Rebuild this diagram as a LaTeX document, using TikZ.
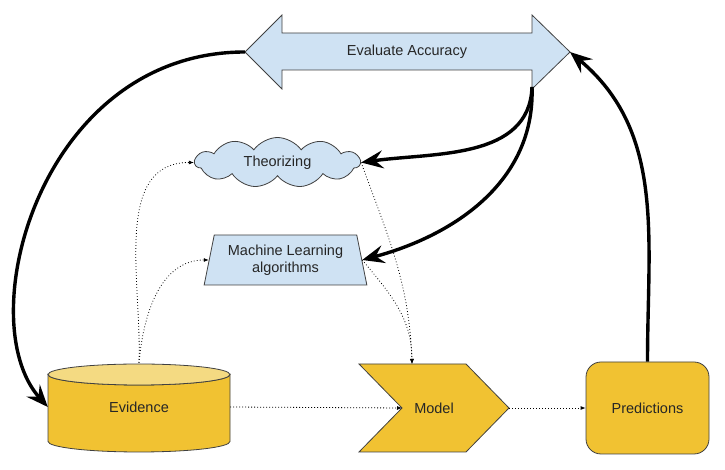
\documentclass[tikz,border=0pt]{standalone}
\usepackage{fontspec}
\setmainfont{Liberation Sans}
\usetikzlibrary{shapes.geometric,shapes.symbols,arrows.meta}
\definecolor{lblue}{RGB}{207,226,243}
\definecolor{gold}{RGB}{241,194,50}
\definecolor{lgold}{RGB}{244,218,130}
\begin{document}
\begin{tikzpicture}
        [x=1pt, y=1pt,
         every node/.style={font=\fontsize{14.5}{17}\selectfont, text=black!85, inner sep=0pt},
         outl/.style={draw=black!75, line width=0.8pt},
         thickarr/.style={line width=3.4pt, -{Stealth[length=22pt,width=18pt,inset=8pt]}},
         dotarr/.style={line width=0.8pt, dash pattern=on 0.8pt off 2.2pt, -{Latex[length=5pt,width=4pt]}}]
        \useasboundingbox (0,0) rectangle (725,470);
        % evaluate accuracy
        \draw[outl, fill=lblue]
            (245,418)--(282,455)--(282,437)--(532,437)--(532,455)--
            (570,418)--(532,381)--(532,400)--(282,400)--(282,381)--cycle;
        \node (eval) at (407,418) {Evaluate Accuracy};
        \coordinate (evalL) at (245,418);
        \coordinate (evalR) at (570,418);
        \coordinate (evalB) at (532,383);
        % evidence
        \draw[outl, fill=gold]
            (48,95.5)--(48,28.5)
            arc[start angle=180, end angle=360, x radius=91, y radius=10.5]
            --(230,95.5)
            arc[start angle=0, end angle=-180, x radius=91, y radius=10.5]--cycle;
        \draw[outl, fill=lgold]
            (139,95.5) ellipse[x radius=91, y radius=10.5];
        \node[minimum width=182pt, minimum height=88pt] (evid) at (139,63) {Evidence};
        % model
        \draw[outl, fill=gold]
            (359,106)--(466,106)--(509,62)--(466,18)--(359,18)--(402,62)--cycle;
        \node (model) at (434,62) {Model};
        \coordinate (modelin) at (402,62);
        \coordinate (modeltop) at (412,106);
        \coordinate (modelout) at (509,62);
        % other nodes
        \node[outl, fill=gold, rounded corners=15pt, minimum width=123pt,
            minimum height=92pt] (pred) at (647.5,62) {Predictions};
        \node[cloud, outl, fill=lblue, cloud puffs=11, cloud puff arc=110,
            aspect=3.3, minimum width=165pt, minimum height=50pt]
            (theo) at (277.5,307.5) {Theorizing};
        \node[trapezium, outl, fill=lblue, trapezium left angle=75,
            trapezium right angle=75, trapezium stretches=true,
            minimum width=163pt, minimum height=50pt, align=center]
            (ml) at (285.5,210) {Machine Learning\\algorithms};
        % dotted links
        \draw[dotarr] (evid.north) to[out=88, in=180] (theo.west);
        \draw[dotarr] (evid.north) to[out=85, in=180] (ml.west);
        \draw[dotarr] (theo.east) to[out=-70, in=92] (modeltop);
        \draw[dotarr] (ml.east) to[out=-50, in=90] (modeltop);
        \draw[dotarr] (evid.east) -- (modelin);
        \draw[dotarr] (modelout) -- (pred.west);
        % thick links
        \draw[thickarr] (evalL) .. controls (40,418) and (-30,150) .. (evid.west);
        \draw[thickarr] (pred.north) to[out=90, in=-40] (evalR);
        \draw[thickarr] (evalB) to[out=-92, in=8] (theo.east);
        \draw[thickarr] (evalB) to[out=-88, in=15] (ml.east);
\end{tikzpicture}
\end{document}
